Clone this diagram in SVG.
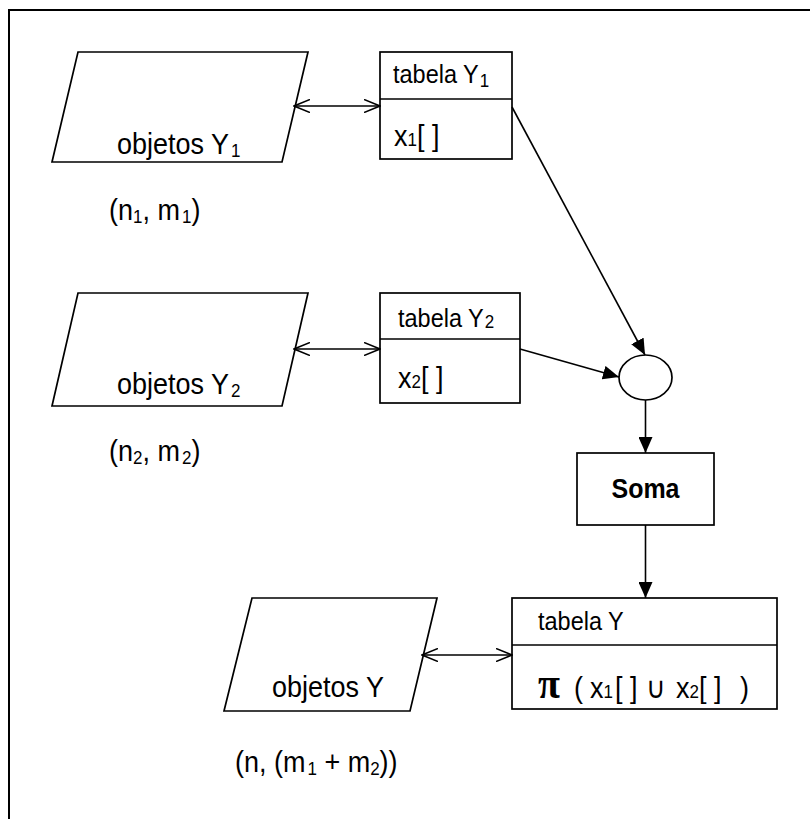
<svg xmlns="http://www.w3.org/2000/svg" width="810" height="819" viewBox="0 0 810 819">
<defs>
<style>
.shape{fill:#fff;stroke:#000;stroke-width:1.7}
.line{fill:none;stroke:#000;stroke-width:1.6}
text{font-family:"Liberation Sans",Arial,sans-serif;fill:#000}
.big{font-size:27px}
.mid{font-size:23.5px}
.sub{font-size:17px}
.bold{font-weight:bold;font-size:25px}
</style>
<marker id="open" viewBox="0 0 17 14" refX="16" refY="7" markerWidth="17" markerHeight="14" orient="auto-start-reverse" markerUnits="userSpaceOnUse">
<path d="M0,0.5 L16,7 L0,13.5" fill="none" stroke="#000" stroke-width="1.6"/>
</marker>
<marker id="solid" viewBox="0 0 16 14" refX="16" refY="7" markerWidth="16" markerHeight="14" orient="auto" markerUnits="userSpaceOnUse">
<path d="M0,0 L16,7 L0,14 Z" fill="#000"/>
</marker>
</defs>
<rect width="810" height="819" fill="#fff"/>
<path d="M9,819 V10 H810" fill="none" stroke="#000" stroke-width="2"/>

<g id="objetosY1">
<polygon class="shape" points="78,52 308,52 282,162 52,162"/>
<text class="big" x="117" y="154" transform="matrix(1,0,0,1.12,0,-18.48)">objetos Y<tspan class="sub" dx="2" dy="3">1</tspan></text>
</g>
<text id="dimY1" class="big" x="109" y="220" transform="matrix(1,0,0,1.12,0,-26.4)">(n<tspan class="sub" dy="3">1</tspan><tspan dy="-3">, m</tspan><tspan class="sub" dx="2" dy="3">1</tspan><tspan dy="-3">)</tspan></text>

<g id="tabelaY1">
<rect class="shape" x="380" y="52" width="132" height="107"/>
<line class="line" x1="380" y1="99" x2="512" y2="99"/>
<text class="mid" x="393" y="83" transform="matrix(1,0,0,1.12,0,-9.96)">tabela Y<tspan class="sub" dx="1" dy="4">1</tspan></text>
<text class="big" x="394" y="146" transform="matrix(1,0,0,1.12,0,-17.52)">x<tspan class="sub">1</tspan><tspan>[ ]</tspan></text>
</g>

<g id="objetosY2">
<polygon class="shape" points="78,293 308,293 282,406 52,406"/>
<text class="big" x="117" y="394" transform="matrix(1,0,0,1.12,0,-47.28)">objetos Y<tspan class="sub" dx="2" dy="3">2</tspan></text>
</g>
<text id="dimY2" class="big" x="109" y="461" transform="matrix(1,0,0,1.12,0,-55.32)">(n<tspan class="sub" dy="3">2</tspan><tspan dy="-3">, m</tspan><tspan class="sub" dx="2" dy="3">2</tspan><tspan dy="-3">)</tspan></text>

<g id="tabelaY2">
<rect class="shape" x="380" y="293" width="140" height="110"/>
<line class="line" x1="380" y1="339" x2="520" y2="339"/>
<text class="mid" x="398" y="327" transform="matrix(1,0,0,1.12,0,-39.24)">tabela Y<tspan class="sub" dx="1" dy="1">2</tspan></text>
<text class="big" x="398" y="388" transform="matrix(1,0,0,1.12,0,-46.56)">x<tspan class="sub">2</tspan><tspan>[ ]</tspan></text>
</g>

<g id="juncao">
<ellipse class="shape" cx="645.5" cy="377.5" rx="26.5" ry="22.5"/>
</g>

<g id="soma">
<rect class="shape" x="577" y="453" width="137" height="72"/>
<text class="bold" x="645.5" y="498" text-anchor="middle" transform="matrix(1,0,0,1.12,0,-59.76)">Soma</text>
</g>

<g id="objetosY">
<polygon class="shape" points="252,598 437,598 410,711 224,711"/>
<text class="big" x="272" y="697" transform="matrix(1,0,0,1.12,0,-83.64)">objetos Y</text>
</g>
<text id="dimY" class="big" x="235" y="772" transform="matrix(1,0,0,1.12,0,-92.64)">(n, (m<tspan class="sub" dx="2" dy="3">1</tspan><tspan dy="-3"> + m</tspan><tspan class="sub" dy="3">2</tspan><tspan dy="-3">))</tspan></text>

<g id="tabelaY">
<rect class="shape" x="512" y="598" width="265" height="111"/>
<line class="line" x1="512" y1="645" x2="777" y2="645"/>
<text class="mid" x="538" y="630" transform="matrix(1,0,0,1.12,0,-75.6)">tabela Y</text>
<text class="big" x="538" y="698" transform="matrix(1,0,0,1.12,0,-83.76)"><tspan style="font-family:'Liberation Serif',serif;font-size:40px;font-weight:bold">π</tspan><tspan x="574">(</tspan><tspan x="590">x</tspan><tspan class="sub">1</tspan><tspan x="615">[ ]</tspan><tspan x="646">∪</tspan><tspan x="676">x</tspan><tspan class="sub">2</tspan><tspan>[ ]</tspan><tspan x="740">)</tspan></text>
</g>

<g id="connectors">
<line class="line" x1="294" y1="106" x2="380" y2="106" marker-start="url(#open)" marker-end="url(#open)"/>
<line class="line" x1="294" y1="349" x2="380" y2="349" marker-start="url(#open)" marker-end="url(#open)"/>
<line class="line" x1="422" y1="655" x2="512" y2="655" marker-start="url(#open)" marker-end="url(#open)"/>
<line class="line" x1="512" y1="107" x2="645" y2="355" marker-end="url(#solid)"/>
<line class="line" x1="520" y1="349" x2="619" y2="377" marker-end="url(#solid)"/>
<line class="line" x1="645.5" y1="400" x2="645.5" y2="453" marker-end="url(#solid)"/>
<line class="line" x1="645.5" y1="525" x2="645.5" y2="598" marker-end="url(#solid)"/>
</g>
</svg>
